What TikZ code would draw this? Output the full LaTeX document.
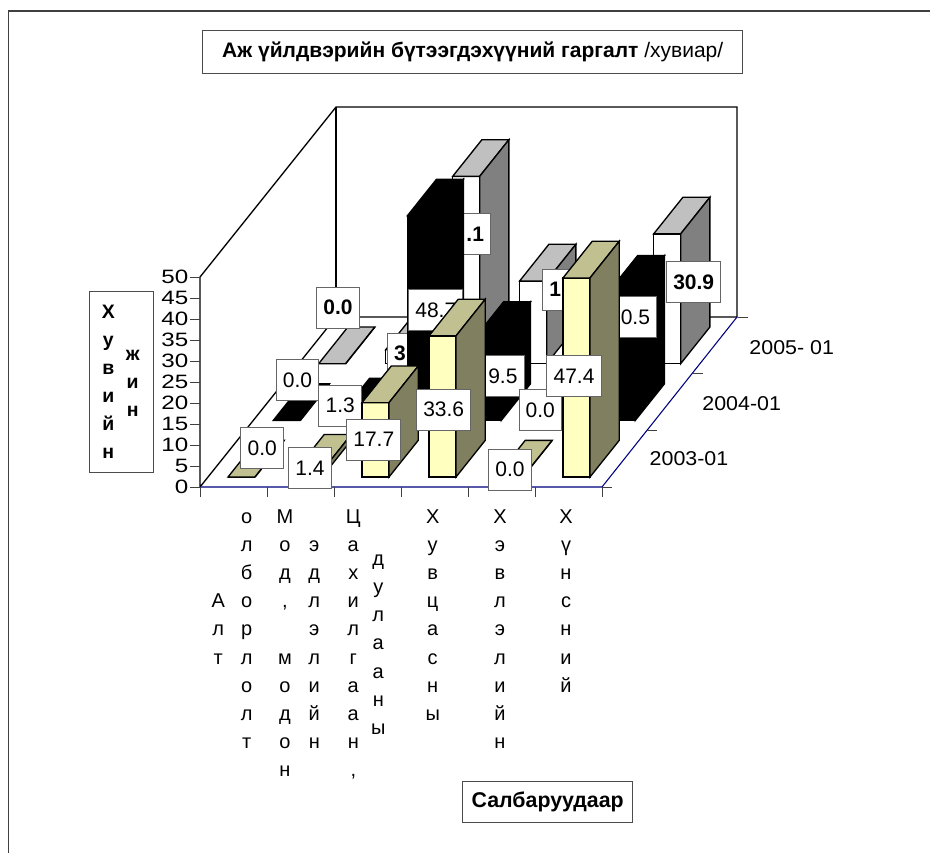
\documentclass[tikz,border=0pt]{standalone}
\usepackage{fontspec}
\setmainfont{Liberation Sans}
\usepackage{graphicx}
\definecolor{yfront}{HTML}{FFFFC0}
\definecolor{ytop}{HTML}{C0C090}
\definecolor{yside}{HTML}{808060}
\definecolor{wtop}{HTML}{C0C0C0}
\definecolor{wside}{HTML}{808080}
\definecolor{navyl}{HTML}{000080}
\tikzset{
  barline/.style={draw=black, line width=1pt, line join=miter},
  wall/.style={draw=black, line width=1pt},
  navyline/.style={draw=navyl, line width=0.8pt},
  tickl/.style={draw=black!75, line width=0.75pt},
  framel/.style={draw=black!75, line width=1pt},
  dlab/.style={draw=black!60, line width=0.75pt, fill=white, font=\fontsize{15.75}{18}\selectfont, inner xsep=5pt, inner ysep=0pt, minimum height=30.75pt},
  dlabb/.style={dlab, font=\fontsize{15.75}{18}\selectfont\bfseries},
  catl/.style={anchor=base, inner sep=0pt, font=\fontsize{15}{18}\selectfont},
  ytl/.style={anchor=base, inner sep=0pt, font=\fontsize{14.6}{18}\selectfont\bfseries},
  tickn/.style={anchor=east, inner sep=0pt, font=\fontsize{14.5}{16}\selectfont},
  depthn/.style={inner sep=0pt, font=\fontsize{15}{18}\selectfont},
  tbox/.style={draw=black!70, line width=0.75pt, fill=white, inner sep=0pt},
}
\newcommand{\mybar}[6]{%
  \pgfmathsetmacro{\bxa}{228+67*#1+136*#2/3}%
  \pgfmathsetmacro{\bya}{477-170*#2/3}%
  \pgfmathsetmacro{\bxb}{\bxa+27}%
  \pgfmathsetmacro{\byt}{\bya-4.2*#3}%
  \pgfmathsetmacro{\bh}{4.2*#3}%
  \filldraw[barline, fill=#4] (\bxa,\bya) rectangle (\bxb,\byt);
  \filldraw[barline, fill=#5] (\bxa,\byt) -- (\bxb,\byt) -- ++(29.2,-36.6) -- ++(-27,0) -- cycle;
  \filldraw[barline, fill=#6] (\bxb,\bya) -- (\bxb,\byt) -- ++(29.2,-36.6) -- ++(0,\bh) -- cycle;
}
\newcommand{\lettercol}[6]{%
  \foreach \ch [count=\k from 0] in {#6} \node[#1] (#5-\k) at (#2,{#3+#4*\k}) {\ch};
}
\begin{document}
\begin{tikzpicture}[x=0.75pt, y=-0.75pt]
\useasboundingbox (0,0) rectangle (930,853);
% outer frame
\draw[framel] (8.3,853) -- (8.3,11) -- (930,11);
% title
\node[tbox, minimum width=405pt, minimum height=32.25pt, font=\fontsize{15.75}{18}\selectfont] (title) at (472.7,51.5) {\textbf{Аж үйлдвэрийн бүтээгдэхүүний гаргалт} /хувиар/};
% walls and floor
\draw[wall] (200,487) -- (200,277) -- (336,107) -- (737,107) -- (737,317) -- (336,317) -- (200,487);
\draw[wall] (336,107) -- (336,317);
\draw[navyline] (200,487) -- (602,487) -- (737,317);
% series 2005-01 (back)
\mybar{0}{2}{0}{white}{wtop}{wside}
\mybar{1}{2}{3.3}{white}{wtop}{wside}
\mybar{2}{2}{44.6}{white}{wtop}{wside}
\mybar{3}{2}{19.7}{white}{wtop}{wside}
\mybar{4}{2}{0}{white}{wtop}{wside}
\mybar{5}{2}{30.9}{white}{wtop}{wside}
\node[dlabb] (l50) at (338,307.5) {0.0};
\node[dlabb] (l51) at (408.6,353.5) {3\phantom{.3}};
\node[dlabb] (l52) at (463.5,234.2) {\phantom{44}.1};
\node[dlabb] (l53) at (569.9,289.7) {1\phantom{9.7}};
\node[dlabb] (l55) at (693.7,281.8) {30.9};
% series 2004-01 (middle)
\mybar{0}{1}{0}{black}{black}{black}
\mybar{1}{1}{1.3}{black}{black}{black}
\mybar{2}{1}{48.7}{black}{black}{black}
\mybar{3}{1}{19.5}{black}{black}{black}
\mybar{4}{1}{0}{black}{black}{black}
\mybar{5}{1}{30.5}{black}{black}{black}
\node[dlab] (l40) at (297.5,379.8) {0.0};
\node[dlab] (l41) at (340.2,405.5) {1.3};
\node[dlab] (l42) at (435.8,310) {48.7};
\node[dlab] (l43) at (497,376.3) {\phantom{1}9.5};
\node[dlab] (l44) at (540.3,410) {0.0};
\node[dlab] (l45) at (629.5,317) {\phantom{3}0.5};
% series 2003-01 (front)
\mybar{0}{0}{0}{yfront}{ytop}{yside}
\mybar{1}{0}{1.4}{yfront}{ytop}{yside}
\mybar{2}{0}{17.7}{yfront}{ytop}{yside}
\mybar{3}{0}{33.6}{yfront}{ytop}{yside}
\mybar{4}{0}{0}{yfront}{ytop}{yside}
\mybar{5}{0}{47.4}{yfront}{ytop}{yside}
\node[dlab] (l30) at (262.2,448.2) {0.0};
\node[dlab] (l31) at (310,468) {1.4};
\node[dlab] (l32) at (373.8,439.7) {17.7};
\node[dlab] (l33) at (443.7,409.7) {33.6};
\node[dlab] (l34) at (510,469.5) {0.0};
\node[dlab] (l35) at (574,376) {47.4};
% value axis
\foreach \v [count=\k from 0] in {0,5,...,50} {
  \draw[tickl] (190,{487-4.2*\v}) -- (200,{487-4.2*\v});
  \node[tickn] (yt\k) at (188.5,{487-4.2*\v}) {\scalebox{1.25}[1]{\v}};
}
% category ticks
\foreach \k in {0,...,6} \draw[tickl] ({200+67*\k},487) -- ({200+67*\k},497);
% depth ticks
\foreach \k in {0,...,3} \draw[tickl] ({602+136*\k/3},{487-170*\k/3}) -- ++(10,0);
\node[depthn] (d05) at (791.7,347.5) {\scalebox{1.07}[1]{2005- 01}};
\node[depthn] (d04) at (741.7,403.8) {\scalebox{1.07}[1]{2004-01}};
\node[depthn] (d03) at (689,459) {\scalebox{1.07}[1]{2003-01}};
% category labels
\lettercol{catl}{218.3}{607.8}{28.1}{c1a}{А,л,т}
\lettercol{catl}{246.7}{523.5}{28.1}{c1b}{о,л,б,о,р,л,о,л,т}
\lettercol{catl}{285}{523.5}{28.1}{c2a}{М,о,д,{,}}
\lettercol{catl}{285}{664}{28.1}{c2b}{м,о,д,о,н}
\lettercol{catl}{314.3}{551.6}{28.1}{c2c}{э,д,л,э,л,и,й,н}
\lettercol{catl}{353.3}{523.5}{28.1}{c3a}{Ц,а,х,и,л,г,а,а,н,{,}}
\lettercol{catl}{378.3}{565.65}{28.1}{c3b}{д,у,л,а,а,н,ы}
\lettercol{catl}{432.7}{523.5}{28.1}{c4}{Х,у,в,ц,а,с,н,ы}
\lettercol{catl}{500}{523.5}{28.1}{c5}{Х,э,в,л,э,л,и,й,н}
\lettercol{catl}{566}{523.5}{28.1}{c6}{Х,ү,н,с,н,и,й}
% value axis title
\node[tbox, minimum width=47.8pt, minimum height=136pt] (ytitle) at (121.2,381.7) {};
\lettercol{ytl}{108.3}{318.3}{28}{ya}{Х,у,в,и,й,н}
\lettercol{ytl}{132.7}{360.3}{28}{yb}{ж,и,н}
% category axis title
\node[tbox, minimum width=127.5pt, minimum height=31.3pt, font=\fontsize{16}{18}\selectfont\bfseries] (xtitle) at (547.7,801.9) {Салбаруудаар};
\end{tikzpicture}
\end{document}
